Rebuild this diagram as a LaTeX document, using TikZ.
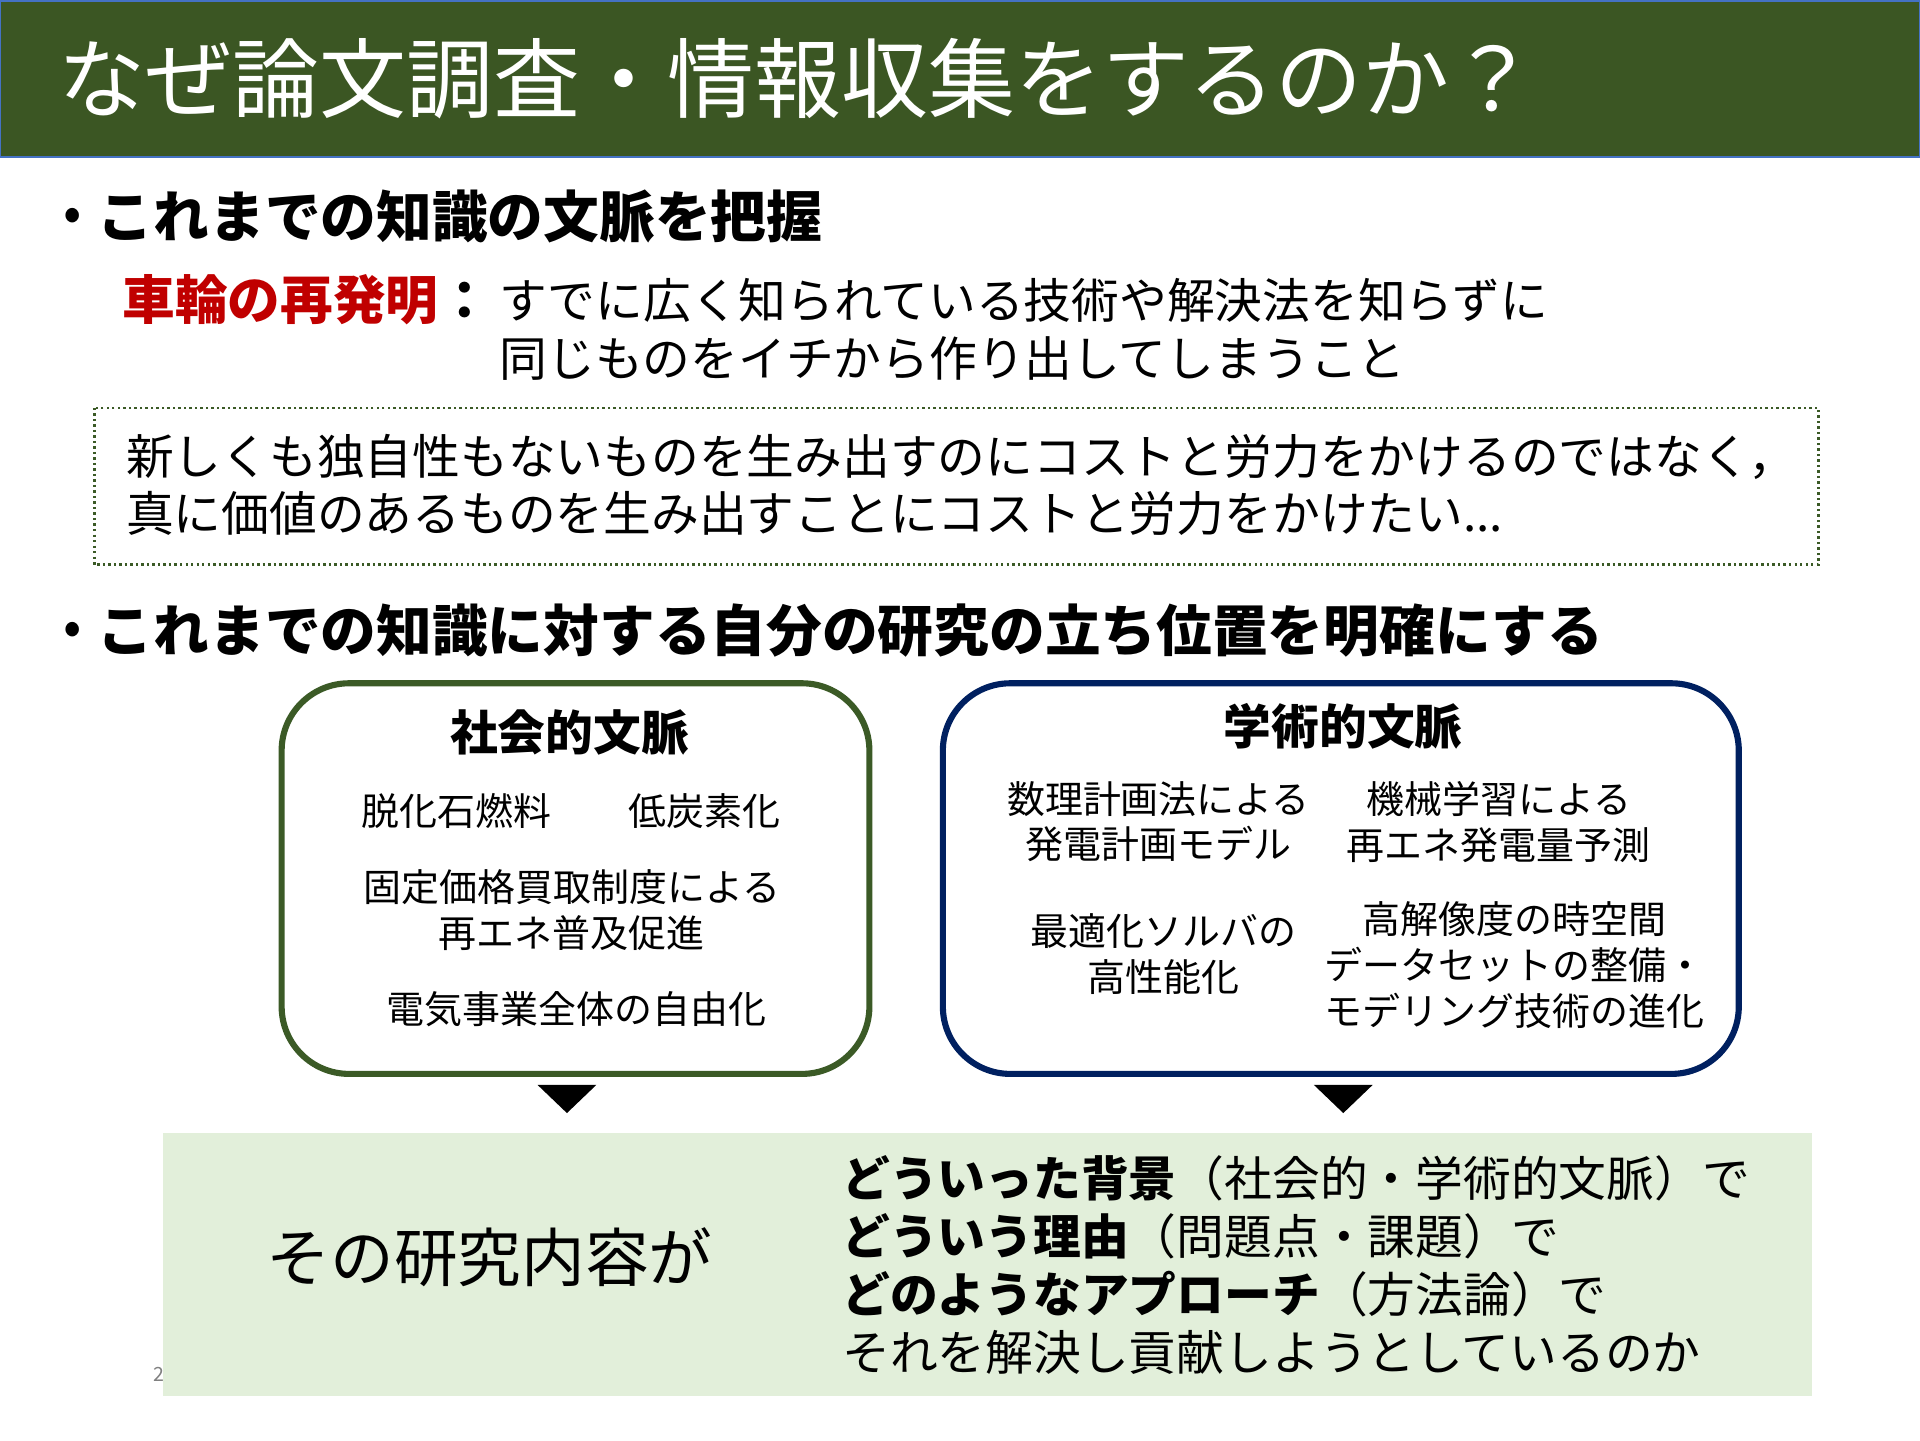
\documentclass[tikz,border=0pt]{standalone}
\usepackage{fontspec}
\setmainfont{Noto Sans CJK JP}
\usepackage{xcolor}
\usepackage{tikz}

\definecolor{titlegreen}{HTML}{3B5623}
\definecolor{titleblue}{HTML}{4472C4}
\definecolor{ctxgreen}{HTML}{3B5A26}
\definecolor{ctxblue}{HTML}{002060}
\definecolor{wheelred}{HTML}{C00000}
\definecolor{summarygreen}{HTML}{E2EFDA}
\newcommand\sz[2]{\fontsize{#1pt}{#2pt}\selectfont}

\begin{document}
\begin{tikzpicture}[x=1pt,y=-1pt,
    every node/.style={inner sep=0pt,outer sep=0pt},
    heading/.style={anchor=west,font=\sz{45.5}{54}\bfseries},
    body/.style={anchor=west,align=left,font=\sz{39}{47}},
    ctx/.style={draw,line width=5pt,rounded corners=55pt,minimum width=480pt,minimum height=319pt},
    ctxtitle/.style={font=\sz{39}{47}\bfseries},
    item/.style={align=center,font=\sz{31}{37.5}},
    arrowtip/.style={fill=black}]
    \useasboundingbox (0,0) rectangle (1568,1176);

    % title bar
    \draw[fill=titlegreen,draw=titleblue,line width=2pt] (0,1) rectangle (1568,128);
    \node[anchor=west,text=white,font=\sz{71}{80}] (title) at (48,64) {なぜ論文調査・情報収集をするのか？};

    % first point
    \node[font=\sz{44}{48}] (dot1) at (59,180) {•};
    \node[heading] (know) at (80,177) {これまでの知識の文脈を把握};
    \node[anchor=west,text=wheelred,font=\sz{43}{50}\bfseries] (wheel) at (100,245) {車輪の再発明\textcolor{black}{：}};
    \node[body] (wheeltxt) at (408,269) {すでに広く知られている技術や解決法を知らずに\\同じものをイチから作り出してしまうこと};
    \draw[ctxgreen,line width=2pt,dash pattern=on 2pt off 2.5pt] (77,333) rectangle (1485,461);
    \node[body,font=\sz{39}{46}] (cost) at (103,396) {新しくも独自性もないものを生み出すのにコストと労力をかけるのではなく，\\真に価値のあるものを生み出すことにコストと労力をかけたい...};

    % second point
    \node[font=\sz{44}{48}] (dot2) at (59,518) {•};
    \node[heading] (pos) at (80,515) {これまでの知識に対する自分の研究の立ち位置を明確にする};

    % social context
    \node[ctx,draw=ctxgreen,minimum width=480pt] (soc) at (470,717.5) {};
    \node[ctxtitle] (soctitle) at (465,598) {社会的文脈};
    \node[item] (fossil) at (373,662) {脱化石燃料};
    \node[item] (carbon) at (575,662) {低炭素化};
    \node[item] (fit) at (467,743) {固定価格買取制度による\\再エネ普及促進};
    \node[item] (liberal) at (471,824) {電気事業全体の自由化};

    % academic context
    \node[ctx,draw=ctxblue,minimum width=650pt] (acad) at (1095,717.5) {};
    \node[ctxtitle] (acadtitle) at (1097,593) {学術的文脈};
    \node[item] (mathprog) at (946,671) {数理計画法による\\発電計画モデル};
    \node[item] (ml) at (1224,671) {機械学習による\\再エネ発電量予測};
    \node[item] (solver) at (950,779) {最適化ソルバの\\高性能化};
    \node[item] (dataset) at (1237,788) {高解像度の時空間\\データセットの整備・\\モデリング技術の進化};

    % summary
    \node[anchor=east,text=gray,font=\sz{16}{18}] (page) at (134,1122) {2};
    \node[fill=summarygreen,minimum width=1347pt,minimum height=215pt] (summary) at (806.5,1032.5) {};
    \node[font=\sz{52}{60}] (content) at (400,1027) {その研究内容が};
    \node[body,font=\sz{39}{47.3}] (why) at (688,1033) {{\bfseries どういった背景}（社会的・学術的文脈）で\\{\bfseries どういう理由}（問題点・課題）で\\{\bfseries どのようなアプローチ}（方法論）で\\それを解決し貢献しようとしているのか};

    \fill[arrowtip] ([xshift=-31pt,yshift=-9pt]soc.south) -- ++(48,0) -- ++(-24,23) -- cycle;
    \fill[arrowtip] ([xshift=-22pt,yshift=-9pt]acad.south) -- ++(48,0) -- ++(-24,23) -- cycle;
\end{tikzpicture}
\end{document}
